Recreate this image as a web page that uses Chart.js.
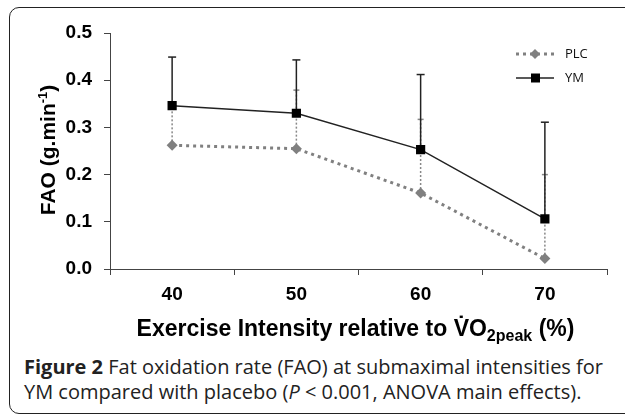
<!DOCTYPE html>
<html>
<head>
<meta charset="utf-8">
<script src="https://cdn.jsdelivr.net/npm/chart.js@4.4.1/dist/chart.umd.min.js"></script>
<style>
  html, body { margin: 0; padding: 0; background: #fff; overflow: hidden; }
  #page { position: relative; width: 625px; height: 416px; overflow: hidden; }
  #frame {
    position: absolute; left: 9px; top: 7px; width: 700px; height: 405px;
    border: 1.5px solid #222; border-radius: 10px;
  }
  #chart-box { position: absolute; left: 0; top: 0; width: 625px; height: 345px; }
  #caption {
    position: absolute; left: 24px; top: 354px; width: 600px;
    font-family: "Open Sans", sans-serif; font-size: 20px; line-height: 25px;
    color: #222; white-space: nowrap;
  }
  #caption b { font-weight: 700; }
</style>
</head>
<body>
<div id="page">
  <div id="frame"></div>
  <div id="chart-box"><canvas id="fao-chart" width="625" height="345"></canvas></div>
  <div id="caption"><b>Figure 2</b> Fat oxidation rate (FAO) at submaximal intensities for<br>YM compared with placebo (<i>P</i> &lt; 0.001, ANOVA main effects).</div>
</div>
<script>
// Dados
const intensities = ['40', '50', '60', '70'];
const plcValues = [0.262, 0.255, 0.161, 0.022];
const ymValues = [0.346, 0.330, 0.253, 0.106];
// desvio padrão (só a barra superior aparece)
const plcSD = [0.084, 0.124, 0.156, 0.178];
const ymSD = [0.103, 0.113, 0.159, 0.205];
const yTicks = [0.0, 0.1, 0.2, 0.3, 0.4, 0.5];

const axisColor = '#444';
const tickFont = { family: 'Liberation Sans', size: 19, weight: 'bold' };

// Barras de erro
const errorBars = {
  id: 'errorBars',
  beforeDatasetsDraw(chart) {
    const ctx = chart.ctx;
    const y = chart.scales.y;
    const sets = [
      { idx: 0, sd: plcSD, color: '#888', dash: [2, 2], cap: 3 },
      { idx: 1, sd: ymSD, color: '#222', dash: [], cap: 4 }
    ];
    sets.forEach(s => {
      const meta = chart.getDatasetMeta(s.idx);
      const vals = chart.data.datasets[s.idx].data;
      meta.data.forEach((pt, i) => {
        const top = y.getPixelForValue(vals[i] + s.sd[i]);
        ctx.save();
        ctx.strokeStyle = s.color;
        ctx.lineWidth = 1.5;
        ctx.setLineDash(s.dash);
        ctx.beginPath();
        ctx.moveTo(pt.x, pt.y);
        ctx.lineTo(pt.x, top);
        ctx.stroke();
        ctx.setLineDash([]);
        ctx.beginPath();
        ctx.moveTo(pt.x - s.cap, top);
        ctx.lineTo(pt.x + s.cap, top);
        ctx.stroke();
        ctx.restore();
      });
    });
  }
};

// Títulos dos eixos e legenda
const extras = {
  id: 'extras',
  afterDraw(chart) {
    const ctx = chart.ctx;
    const area = chart.chartArea;
    ctx.save();
    ctx.fillStyle = '#000';
    ctx.textBaseline = 'alphabetic';

    // título eixo x
    const big = 'bold 23px "Liberation Sans"';
    const small = 'bold 16px "Liberation Sans"';
    const t1 = 'Exercise Intensity relative to V\u0307O';
    const t2 = '2peak';
    const t3 = ' (%)';
    ctx.font = big;
    const w1 = ctx.measureText(t1).width;
    const w3 = ctx.measureText(t3).width;
    ctx.font = small;
    const w2 = ctx.measureText(t2).width;
    let x = (area.left + area.right) / 2 - 3 - (w1 + w2 + w3) / 2;
    const base = 336;
    ctx.textAlign = 'left';
    ctx.font = big;
    ctx.fillText(t1, x, base);
    x += w1;
    ctx.font = small;
    ctx.fillText(t2, x, base + 5);
    x += w2;
    ctx.font = big;
    ctx.fillText(t3, x, base);

    // título eixo y
    const ybig = 'bold 21px "Liberation Sans"';
    const ysup = 'bold 13px "Liberation Sans"';
    ctx.save();
    ctx.translate(55, 150);
    ctx.rotate(-Math.PI / 2);
    const y1 = 'FAO (g.min';
    const y2 = '-1';
    const y3 = ')';
    ctx.font = ybig;
    const a1 = ctx.measureText(y1).width;
    const a3 = ctx.measureText(y3).width;
    ctx.font = ysup;
    const a2 = ctx.measureText(y2).width;
    let xx = -(a1 + a2 + a3) / 2;
    ctx.font = ybig;
    ctx.fillText(y1, xx, 0);
    xx += a1;
    ctx.font = ysup;
    ctx.fillText(y2, xx, -8);
    xx += a2;
    ctx.font = ybig;
    ctx.fillText(y3, xx, 0);
    ctx.restore();

    // legenda
    ctx.font = '13px "Open Sans"';
    ctx.textBaseline = 'middle';
    const rows = [
      { label: 'PLC', y: 54, color: '#808080', dash: [3, 4], width: 3, style: 'diamond' },
      { label: 'YM', y: 78, color: '#222', dash: [], width: 1.5, style: 'square' }
    ];
    rows.forEach(r => {
      ctx.strokeStyle = r.color;
      ctx.lineWidth = r.width;
      ctx.setLineDash(r.dash);
      ctx.beginPath();
      ctx.moveTo(516, r.y);
      ctx.lineTo(554, r.y);
      ctx.stroke();
      ctx.setLineDash([]);
      ctx.fillStyle = r.style === 'diamond' ? '#808080' : '#000';
      ctx.beginPath();
      if (r.style === 'diamond') {
        ctx.moveTo(535 - 5, r.y);
        ctx.lineTo(535, r.y - 5);
        ctx.lineTo(535 + 5, r.y);
        ctx.lineTo(535, r.y + 5);
        ctx.closePath();
      } else {
        ctx.rect(531, r.y - 4.5, 9, 9);
      }
      ctx.fill();
      ctx.fillStyle = '#111';
      ctx.fillText(r.label, 565, r.y);
    });
    ctx.restore();
  }
};

const ctx = document.getElementById('fao-chart').getContext('2d');
new Chart(ctx, {
  type: 'line',
  data: {
    labels: intensities,
    datasets: [{
      label: 'PLC',
      data: plcValues,
      borderColor: '#808080',
      borderWidth: 3,
      borderDash: [3, 4],
      pointStyle: 'rectRot',
      pointRadius: 5.5,
      pointBackgroundColor: '#808080',
      pointBorderWidth: 0,
      tension: 0
    }, {
      label: 'YM',
      data: ymValues,
      borderColor: '#222',
      borderWidth: 1.5,
      pointStyle: 'rect',
      pointRadius: 6.5,
      pointBackgroundColor: '#000',
      pointBorderWidth: 0,
      tension: 0
    }]
  },
  options: {
    responsive: false,
    animation: false,
    layout: { padding: { left: 50, top: 33, right: 18, bottom: 36 } },
    plugins: { legend: { display: false }, tooltip: { enabled: false } },
    scales: {
      x: {
        offset: true,
        grid: { offset: true, drawOnChartArea: false, drawTicks: true, tickLength: 6, color: axisColor },
        border: { color: axisColor, width: 1 },
        ticks: { font: tickFont, color: '#000', padding: 8, maxRotation: 0 },
        afterFit(scale) { scale.height = 40; }
      },
      y: {
        min: 0,
        max: 0.5,
        afterBuildTicks(scale) { scale.ticks = yTicks.map(v => ({ value: v })); },
        grid: { drawOnChartArea: false, drawTicks: true, tickLength: 6, color: axisColor },
        border: { color: axisColor, width: 1 },
        ticks: { font: tickFont, color: '#000', padding: 12, callback: v => v.toFixed(1) },
        afterFit(scale) { scale.width = 60; }
      }
    }
  },
  plugins: [errorBars, extras]
});
</script>
</body>
</html>
